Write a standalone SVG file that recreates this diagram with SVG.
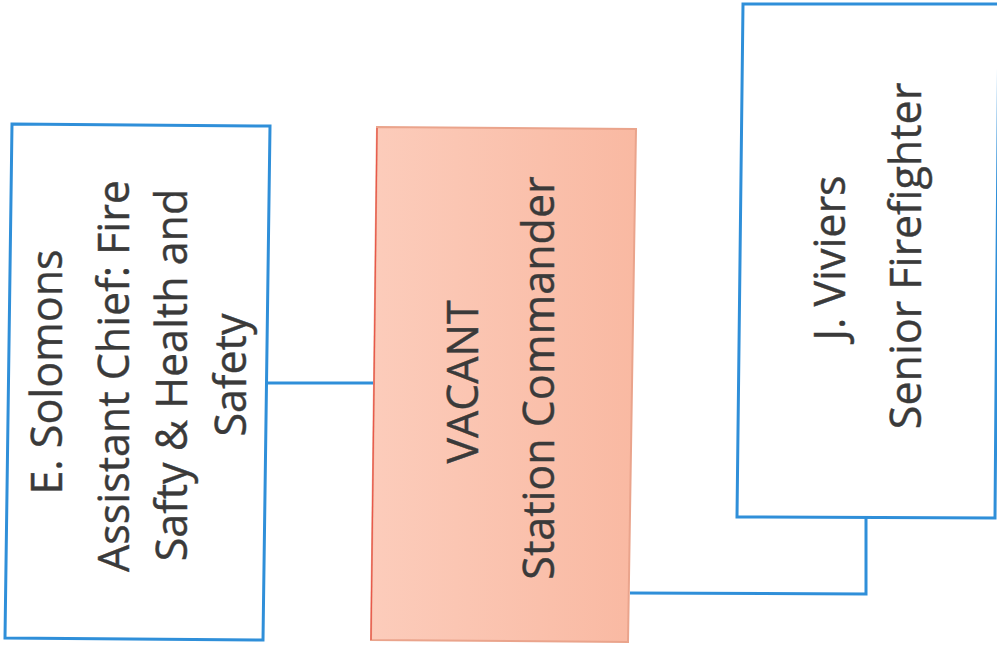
<svg xmlns="http://www.w3.org/2000/svg" width="997" height="647" viewBox="0 0 997 647">
<defs>
<linearGradient id="salmon" x1="0" y1="0" x2="1" y2="0">
<stop offset="0" stop-color="#fcccbb"/>
<stop offset="1" stop-color="#f9b9a2"/>
</linearGradient>
</defs>
<style>
.box{fill:#ffffff;stroke:#2f8fd9;stroke-width:3}
.vac{fill:url(#salmon);stroke:#eaa48c;stroke-width:2}
.conn{fill:none;stroke:#2f8fd9;stroke-width:3}
.t{font-family:"Open Sans","Noto Sans",sans-serif;font-size:43px;fill:#3a3a3a;text-anchor:middle;stroke:#3a3a3a;stroke-width:0.4}
</style>
<rect width="997" height="647" fill="#ffffff"/>
<g id="connectors">
<path class="conn" d="M268,383 L374,383"/>
<path class="conn" d="M630,593 L866,594 L866,518"/>
</g>
<g id="node-solomons">
<polygon class="box" points="12,124 270,126 263,640 5,638"/>
<text class="t" transform="translate(62,372) rotate(-90)">E. Solomons</text>
<text class="t" transform="translate(129,376) rotate(-90)">Assistant Chief: Fire</text>
<text class="t" transform="translate(187,375) rotate(-90)">Safty &amp; Health and</text>
<text class="t" transform="translate(246,375) rotate(-90)">Safety</text>
</g>
<g id="node-vacant">
<polygon class="vac" points="377,127 636,129 628,642 371,640"/>
<path d="M377,128 L371,640" stroke="#e8574a" stroke-width="1.2" fill="none"/>
<text class="t" transform="translate(478,382) rotate(-90)">VACANT</text>
<text class="t" transform="translate(554,378) rotate(-90)">Station Commander</text>
</g>
<g id="node-viviers">
<polygon class="box" points="743,4 999,4 995,518 737,517"/>
<text class="t" transform="translate(845,258) rotate(-90)">J. Viviers</text>
<text class="t" transform="translate(921,256) rotate(-90)">Senior Firefighter</text>
</g>
</svg>
